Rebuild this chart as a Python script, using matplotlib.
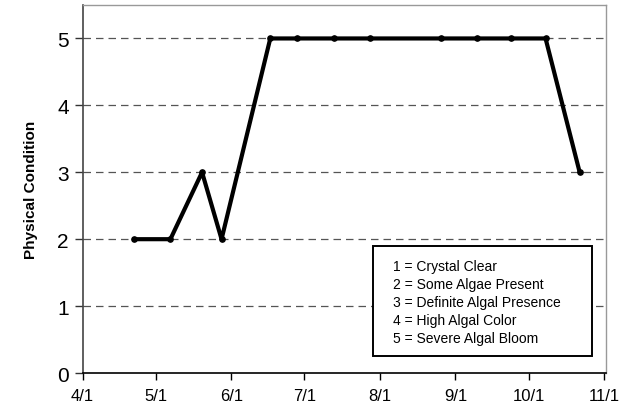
import matplotlib
matplotlib.use("Agg")
import matplotlib.pyplot as plt
from matplotlib.patches import Rectangle
import datetime as dt

plt.rcParams['font.family'] = ['Liberation Sans', 'DejaVu Sans']

# Data
dates = ["2005-04-22", "2005-05-07", "2005-05-20", "2005-05-28", "2005-06-17",
         "2005-06-28", "2005-07-13", "2005-07-28", "2005-08-26", "2005-09-10",
         "2005-09-24", "2005-10-08", "2005-10-22"]
condition = [2, 2, 3, 2, 5, 5, 5, 5, 5, 5, 5, 5, 3]
tick_dates = ["2005-04-01", "2005-05-01", "2005-06-01", "2005-07-01",
              "2005-08-01", "2005-09-01", "2005-10-01", "2005-11-01"]
tick_labels = ["4/1", "5/1", "6/1", "7/1", "8/1", "9/1", "10/1", "11/1"]
y_ticks = [0, 1, 2, 3, 4, 5]
legend_lines = ["1 = Crystal Clear", "2 = Some Algae Present",
                "3 = Definite Algal Presence", "4 = High Algal Color",
                "5 = Severe Algal Bloom"]

x = [dt.datetime.strptime(d, "%Y-%m-%d") for d in dates]
xt = [dt.datetime.strptime(d, "%Y-%m-%d") for d in tick_dates]

fig = plt.figure(figsize=(6.39, 4.14), dpi=100)
ax = fig.add_axes([0.1294, 0.0966, 0.8197, 0.8889])

for yv in y_ticks[1:]:
    ax.axhline(yv, color='#555555', linestyle=(0, (6, 4)), linewidth=0.9, zorder=1)

ax.plot(x, condition, color='black', linewidth=3.0, marker='o', markersize=3.8,
        zorder=3, solid_joinstyle='round', solid_capstyle='round')

ax.set_xlim(xt[0], xt[-1] + dt.timedelta(days=1))
ax.set_ylim(0, 5.5)
ax.set_xticks(xt)
ax.set_xticklabels(tick_labels, fontsize=12)
ax.set_yticks(y_ticks)
ax.set_yticklabels([str(v) for v in y_ticks], fontsize=15)
ax.tick_params(axis='x', direction='out', length=5, width=1, pad=6, color='black')
ax.tick_params(axis='y', direction='out', length=6, width=1, pad=4, color='#333333')

for s in ['top', 'right']:
    ax.spines[s].set_color('#999999')
    ax.spines[s].set_linewidth(1.0)
ax.spines['left'].set_color('#444444')
ax.spines['left'].set_linewidth(1.2)
ax.spines['bottom'].set_color('black')
ax.spines['bottom'].set_linewidth(1.2)

ax.set_ylabel("Physical Condition", fontsize=11, fontweight='bold', labelpad=14)

box = Rectangle((0.555, 0.047), 0.418, 0.299, transform=ax.transAxes,
                facecolor='white', edgecolor='black', linewidth=1.4, zorder=4)
ax.add_patch(box)
y0 = 0.2916
for i, line in enumerate(legend_lines):
    ax.text(0.592, y0 - i * 0.0493, line, transform=ax.transAxes, fontsize=10,
            va='center', ha='left', zorder=5)

fig.savefig("out.png", dpi=100)
